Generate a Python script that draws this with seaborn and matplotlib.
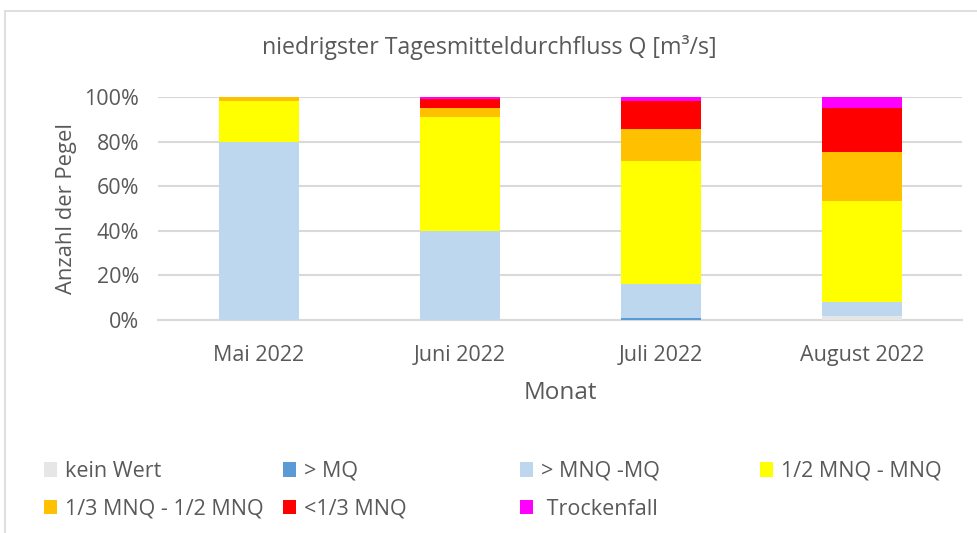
import numpy as np
import pandas as pd
import matplotlib
matplotlib.use("Agg")
import matplotlib.pyplot as plt
from matplotlib.patches import Patch, Rectangle
import seaborn as sns

# Daten (Anteil der Pegel in %)
months = ["Mai 2022", "Juni 2022", "Juli 2022", "August 2022"]
kein_wert = [0, 0, 0, 2]
ueber_mq = [0, 0, 1, 0]
mnq_mq = [80, 40, 15, 6]
halb_mnq = [18, 51, 55.5, 45.5]
drittel_mnq = [2, 4, 14, 22]
unter_drittel = [0, 4, 12.5, 19.5]
trockenfall = [0, 1, 2, 5]

labels = ["kein Wert", "> MQ", "> MNQ -MQ", "1/2 MNQ - MNQ",
          "1/3 MNQ - 1/2 MNQ", "<1/3 MNQ", " Trockenfall"]
colors = ["#E7E6E6", "#5B9BD5", "#BDD7EE", "#FFFF00",
          "#FFC000", "#FF0000", "#FF00FF"]

series = [kein_wert, ueber_mq, mnq_mq, halb_mnq, drittel_mnq, unter_drittel, trockenfall]
df = pd.DataFrame(dict(zip(labels, series)), index=months)
cum = df.cumsum(axis=1)

sns.set_style("white")
plt.rcParams["font.family"] = ["Open Sans", "DejaVu Sans"]
txt = "#595959"

fig = plt.figure(figsize=(9.78, 5.33), dpi=100)
ax = fig.add_axes([158.5 / 978, 1 - 320 / 533, 804 / 978, 223 / 533])

# gestapelt: von oben nach unten uebermalen
for lab, col in zip(labels[::-1], colors[::-1]):
    sns.barplot(x=months, y=cum[lab].values, color=col, saturation=1,
                width=0.4, linewidth=0, ax=ax, zorder=3)

ax.set_xlim(-0.5, 3.5)
ax.set_ylim(0, 100)
ax.set_yticks(np.arange(0, 101, 20))
ax.set_yticklabels([f"{v}%" for v in range(0, 101, 20)])
ax.yaxis.grid(True, color="#d9d9d9", linewidth=1.5, zorder=0)
ax.set_axisbelow(True)
for s in ["left", "right", "top"]:
    ax.spines[s].set_visible(False)
ax.spines["bottom"].set_color("#d9d9d9")
ax.spines["bottom"].set_linewidth(1.5)
ax.tick_params(axis="both", length=0, labelsize=15.5, colors=txt)
ax.tick_params(axis="y", pad=14)
ax.tick_params(axis="x", pad=18)

ax.set_xlabel("Monat", fontsize=17.5, color=txt, labelpad=11)
ax.set_ylabel("Anzahl der Pegel", fontsize=15.8, color=txt, labelpad=5)
fig.text(0.5, 1 - 47 / 533, "niedrigster Tagesmitteldurchfluss Q [m³/s]",
         ha="center", va="center", fontsize=16.7, color=txt)

# Rahmen des Diagrammbereichs
fig.patches.append(Rectangle((5 / 978, -0.1), 1.2, 1 - 11 / 533 + 0.1,
                             transform=fig.transFigure, fill=False,
                             edgecolor="#d9d9d9", linewidth=1.2))

# Legende in vier Spalten
col_x = [44, 283, 520, 760]
groups = [[0, 4], [1, 5], [2, 6], [3]]
for x, idx in zip(col_x, groups):
    handles = [Patch(facecolor=colors[i], edgecolor="none", label=labels[i]) for i in idx]
    fig.legend(handles=handles, loc="upper left",
               bbox_to_anchor=(x / 978, 1 - 461 / 533), frameon=False,
               fontsize=15.5, labelcolor=txt, handlelength=0.6, handleheight=0.65,
               handletextpad=0.37, labelspacing=0.77, borderaxespad=0,
               borderpad=0)

fig.savefig("out.png", dpi=100)
